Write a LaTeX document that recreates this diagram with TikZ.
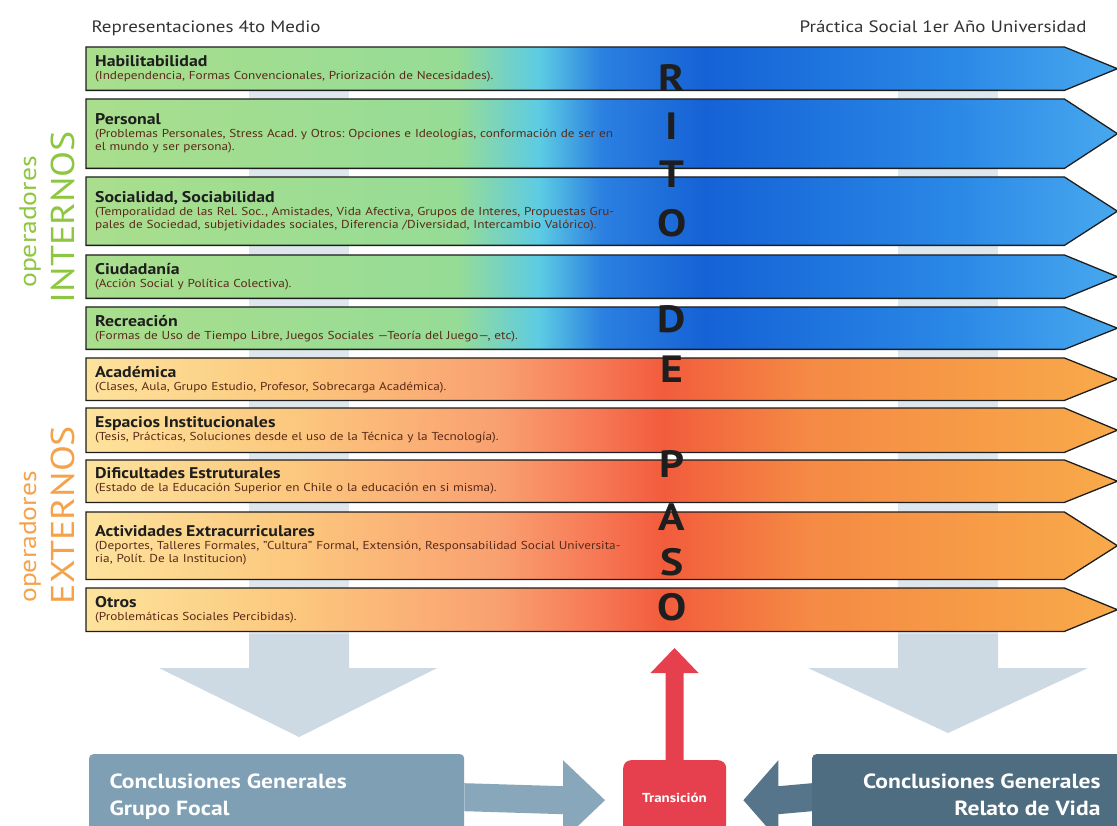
\documentclass[tikz,border=0pt]{standalone}
\usepackage{fontspec}
\setmainfont{PT Sans}[FakeStretch=1.15]
\usetikzlibrary{calc,backgrounds}
\frenchspacing

\definecolor{gA}{HTML}{A9DE8D}
\definecolor{gB}{HTML}{96DC96}
\definecolor{cyA}{HTML}{5CCBE4}
\definecolor{blA}{HTML}{2C80E0}
\definecolor{blB}{HTML}{1562D6}
\definecolor{blC}{HTML}{2A88E6}
\definecolor{blD}{HTML}{48A8EE}
\definecolor{oA}{HTML}{FDE39C}
\definecolor{oB}{HTML}{FCC87E}
\definecolor{oC}{HTML}{F9A070}
\definecolor{oD}{HTML}{F67653}
\definecolor{oE}{HTML}{F25C3C}
\definecolor{oF}{HTML}{F58A44}
\definecolor{oG}{HTML}{F8AA4A}
\definecolor{bandline}{HTML}{1E1E1E}
\definecolor{tittxt}{HTML}{1E1E1E}
\definecolor{subtxt}{HTML}{5A2A18}
\definecolor{intgreen}{HTML}{8DC63F}
\definecolor{extorange}{HTML}{F5A24A}
\definecolor{downfill}{HTML}{CDD9E3}
\definecolor{shaftfill}{HTML}{DFE7EE}
\definecolor{focalfill}{HTML}{7F9FB5}
\definecolor{focalarrow}{HTML}{88A7BA}
\definecolor{vidafill}{HTML}{4F6D81}
\definecolor{vidaarrow}{HTML}{56758A}
\definecolor{transfill}{HTML}{E6404F}

\pgfdeclarehorizontalshading{intshade}{100bp}{color(0bp)=(gA); color(25bp)=(gA);
  color(43bp)=(gB); color(47bp)=(cyA); color(50bp)=(blA); color(55bp)=(blB);
  color(67bp)=(blC); color(75bp)=(blD); color(100bp)=(blD)}
\pgfdeclarehorizontalshading{extshade}{100bp}{color(0bp)=(oA); color(25bp)=(oA);
  color(35bp)=(oB); color(45bp)=(oC); color(50bp)=(oD); color(53bp)=(oE);
  color(60bp)=(oF); color(75bp)=(oG); color(100bp)=(oG)}

\newcommand{\bandtit}[1]{{\fontsize{15.5}{17}\selectfont\bfseries\color{tittxt}#1}}

\begin{document}
\begin{tikzpicture}[x=1pt,y=-1pt,%
% common options for the bands:
band/.style = {rectangle, anchor=north west, align=left, text width=960pt,
            inner xsep=9pt, inner ysep=0pt, text=subtxt,
            font=\fontsize{11.5}{13}\selectfont},
% common options for the letters:
letter/.style = {anchor=base, inner sep=0, text=tittxt,
            font=\fontsize{38}{38}\selectfont\bfseries},
% common options for the bottom boxes:
endbox/.style = {rectangle, rounded corners=4pt, anchor=north west, inner sep=0}]
\clip (0,0) rectangle (1117,826);
\node[anchor=base west, text=black!80, font=\fontsize{16.5}{18}\selectfont] (hdL) at (88,33) {Representaciones 4to Medio};
\node[anchor=base east, text=black!80, font=\fontsize{16.5}{18}\selectfont] (hdR) at (1090,33) {Práctica Social 1er Año Universidad};
\node[band, minimum height=43pt] (B1) at (86,47) {\bandtit{Habilitabilidad}\\(Independencia, Formas Convencionales, Priorización de Necesidades).};
\node[band, minimum height=69pt] (B2) at (86,99) {\bandtit{Personal}\\(Problemas Personales, Stress Acad. y Otros: Opciones e Ideologías, conformación de ser en\\el mundo y ser persona).};
\node[band, minimum height=68pt] (B3) at (86,177) {\bandtit{Socialidad, Sociabilidad}\\(Temporalidad de las Rel. Soc., Amistades, Vida Afectiva, Grupos de Interes, Propuestas Gru-\\pales de Sociedad, subjetividades sociales, Diferencia /Diversidad, Intercambio Valórico).};
\node[band, minimum height=43pt] (B4) at (86,255) {\bandtit{Ciudadanía}\\(Acción Social y Política Colectiva).};
\node[band, minimum height=42pt] (B5) at (86,307) {\bandtit{Recreación}\\(Formas de Uso de Tiempo Libre, Juegos Sociales ---Teoría del Juego---, etc).};
\node[band, minimum height=42pt] (B6) at (86,358) {\bandtit{Académica}\\(Clases, Aula, Grupo Estudio, Profesor, Sobrecarga Académica).};
\node[band, minimum height=44pt] (B7) at (86,408) {\bandtit{Espacios Institucionales}\\(Tesis, Prácticas, Soluciones desde el uso de la Técnica y la Tecnología).};
\node[band, minimum height=42pt] (B8) at (86,460) {\bandtit{Dificultades Estruturales}\\(Estado de la Educación Superior en Chile o la educación en si misma).};
\node[band, minimum height=67pt] (B9) at (86,512) {\bandtit{Actividades Extracurriculares}\\(Deportes, Talleres Formales, "Cultura" Formal, Extensión, Responsabilidad Social Universita-\\ria, Polít. De la Institucion)};
\node[band, minimum height=43pt] (B10) at (86,588) {\bandtit{Otros}\\(Problemáticas Sociales Percibidas).};
% RITO DE PASO
\node[letter] (L1) at (672,92) {R};
\node[letter] (L2) at (672,140) {I};
\node[letter] (L3) at (672,188) {T};
\node[letter] (L4) at (672,237) {O};
\node[letter] (L5) at (672,333) {D};
\node[letter] (L6) at (672,382) {E};
\node[letter] (L7) at (672,477) {P};
\node[letter] (L8) at (672,530) {A};
\node[letter] (L9) at (672,575) {S};
\node[letter] (L10) at (672,620) {O};
% side labels
\node[rotate=90, text=intgreen, font=\fontsize{24}{24}\selectfont] (opI) at (30,222) {operadores};
\node[rotate=90, text=intgreen, font=\fontsize{33}{33}\selectfont] (inI) at (63,217) {INTERNOS};
\node[rotate=90, text=extorange, font=\fontsize{24}{24}\selectfont] (opE) at (30,537) {operadores};
\node[rotate=90, text=extorange, font=\fontsize{33}{33}\selectfont] (inE) at (63,515) {EXTERNOS};
% bottom boxes
\node[endbox, fill=focalfill, minimum width=375pt, minimum height=86pt] (F) at (89,754) {};
\node[anchor=base west, text=white, font=\fontsize{20.5}{27}\selectfont\bfseries, align=left] (Ft) at (106,815) {Conclusiones Generales\\Grupo Focal};
\node[endbox, fill=vidafill, minimum width=330pt, minimum height=86pt] (V) at (812,754) {};
\node[anchor=base east, text=white, font=\fontsize{20.5}{27}\selectfont\bfseries, align=right] (Vt) at (1104,815) {Conclusiones Generales\\Relato de Vida};
\node[endbox, fill=transfill, rounded corners=8pt, minimum width=103pt, minimum height=80pt] (T) at (623,760) {};
\node[text=white, font=\fontsize{13}{15}\selectfont\bfseries] (Tt) at (674.5,798) {Transición};
\coordinate (Tup) at (674.5,648);
\coordinate (DL) at (299,737);
\coordinate (DR) at (948,733);
\begin{scope}[on background layer]
\fill[white] (0,0) rectangle (1117,826);
\fill[shaftfill] (249,60) rectangle (349,634);
\fill[shaftfill] (898,60) rectangle (998,634);
\fill[downfill] (249,634) -- (349,634) -- (349,668) -- (437,668) -- (DL) -- (159,668) -- (249,668) -- cycle;
\fill[downfill] (898,634) -- (998,634) -- (998,668) -- (1088,668) -- (DR) -- (808,668) -- (898,668) -- cycle;
\foreach \b/\s in {B1/intshade,B2/intshade,B3/intshade,B4/intshade,B5/intshade,
                   B6/extshade,B7/extshade,B8/extshade,B9/extshade,B10/extshade}
  \shadedraw[shading=\s, draw=bandline, line width=1.3pt]
    (\b.north west) -- (\b.north east) -- ($(\b.east)+(53,0)$) -- (\b.south east) -- (\b.south west) -- cycle;
% arrows into the transition box
\fill[focalarrow] ($(F.east)+(0,-14)$) -- ($(T.west)+(-60,-14)$) -- ($(T.west)+(-60,-40)$) -- ($(T.west)+(-18,0)$)
   -- ($(T.west)+(-60,40)$) -- ($(T.west)+(-60,14)$) -- ($(F.east)+(0,14)$) -- cycle;
\fill[vidaarrow] ($(V.west)+(0,-14)$) -- ($(T.east)+(52,-14)$) -- ($(T.east)+(52,-40)$) -- ($(T.east)+(17,0)$)
   -- ($(T.east)+(52,40)$) -- ($(T.east)+(52,14)$) -- ($(V.west)+(0,14)$) -- cycle;
\fill[transfill] ($(T.north)+(-9,2)$) -- ($(Tup)+(-9,25)$) -- ($(Tup)+(-24,25)$) -- (Tup)
   -- ($(Tup)+(24,25)$) -- ($(Tup)+(9,25)$) -- ($(T.north)+(9,2)$) -- cycle;
\end{scope}
\end{tikzpicture}
\end{document}
